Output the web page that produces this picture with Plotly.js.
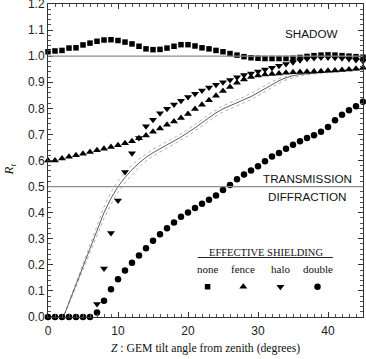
<!DOCTYPE html>
<html>
<head>
<meta charset="utf-8">
<script src="https://cdn.plot.ly/plotly-3.0.1.min.js"></script>
<style>
  html, body { margin: 0; padding: 0; background: #ffffff; }
  #chart { width: 366px; height: 359px; }
</style>
</head>
<body>
<div id="chart"></div>
<script>
/*
  Relative transmission R_t against GEM tilt angle, for four kinds of shielding.
*/

// tilt angle from zenith (degrees), one point per degree
const tiltDeg = [0, 1, 2, 3, 4, 5, 6, 7, 8, 9, 10, 11, 12, 13, 14, 15, 16, 17, 18, 19, 20, 21, 22,
  23, 24, 25, 26, 27, 28, 29, 30, 31, 32, 33, 34, 35, 36, 37, 38, 39, 40, 41, 42, 43, 44, 45];

// shielding: none (squares)
const rtNone = [1.017, 1.020, 1.022, 1.031, 1.032, 1.043, 1.050, 1.057, 1.062, 1.063, 1.060, 1.054,
  1.047, 1.038, 1.028, 1.025, 1.026, 1.031, 1.038, 1.044, 1.044, 1.039, 1.032, 1.028, 1.022, 1.017,
  1.010, 1.004, 0.998, 0.994, 0.992, 0.991, 0.991, 0.991, 0.991, 0.992, 0.995, 0.999, 1.002, 1.004,
  1.005, 1.004, 1.002, 1.000, 0.998, 0.996];

// shielding: fence (up triangles)
const rtFence = [0.600, 0.600, 0.608, 0.614, 0.620, 0.626, 0.633, 0.639, 0.645, 0.652, 0.658, 0.666,
  0.674, 0.685, 0.696, 0.710, 0.723, 0.737, 0.750, 0.763, 0.778, 0.797, 0.814, 0.831, 0.848, 0.866,
  0.882, 0.898, 0.911, 0.920, 0.926, 0.930, 0.932, 0.934, 0.936, 0.938, 0.939, 0.940, 0.941, 0.942,
  0.944, 0.945, 0.947, 0.949, 0.952, 0.956];

// shielding: halo (down triangles), starts at 7 degrees
const haloDeg = [7, 8, 9, 10, 11, 12, 13, 14, 15, 16, 17, 18, 19, 20, 21, 22, 23, 24, 25, 26,
  27, 28, 29, 30, 31, 32, 33, 34, 35, 36, 37, 38, 39, 40, 41, 42, 43, 44, 45];
const rtHalo = [0.050, 0.186, 0.322, 0.447, 0.556, 0.628, 0.686, 0.731, 0.756, 0.781, 0.798, 0.815,
  0.829, 0.843, 0.856, 0.868, 0.880, 0.890, 0.900, 0.909, 0.919, 0.928, 0.934, 0.941, 0.949, 0.956,
  0.963, 0.970, 0.977, 0.984, 0.990, 0.993, 0.995, 0.995, 0.994, 0.992, 0.989, 0.985, 0.981];

// shielding: double (circles)
const rtDouble = [0, 0, 0, 0, 0, 0, 0, 0.017, 0.062, 0.106, 0.145, 0.178, 0.208, 0.236, 0.264, 0.292,
  0.317, 0.340, 0.362, 0.384, 0.401, 0.418, 0.434, 0.450, 0.466, 0.487, 0.506, 0.528, 0.546, 0.562,
  0.578, 0.597, 0.615, 0.629, 0.645, 0.660, 0.674, 0.686, 0.697, 0.710, 0.728, 0.754, 0.775, 0.793,
  0.808, 0.825];

// model curve with its upper and lower band
const fitDeg = [0, 2.2, 3, 4, 5, 6, 7, 8, 9, 10, 11, 12, 13, 14, 15, 16, 17, 18, 19, 20, 21, 22, 23,
  24, 25, 26, 27, 28, 29, 30, 31, 32, 33, 34, 35, 36, 37, 38, 39, 40, 41, 42, 43, 44, 45];
const fitMid = [0, 0, 0.055, 0.125, 0.195, 0.265, 0.335, 0.400, 0.455, 0.500, 0.535, 0.565, 0.590,
  0.612, 0.630, 0.646, 0.660, 0.675, 0.690, 0.707, 0.725, 0.745, 0.765, 0.783, 0.798, 0.810, 0.820,
  0.832, 0.845, 0.860, 0.876, 0.893, 0.906, 0.917, 0.925, 0.930, 0.933, 0.936, 0.938, 0.940, 0.942,
  0.944, 0.946, 0.948, 0.950];
const fitUpper = [0, 0, 0.058, 0.132, 0.207, 0.282, 0.355, 0.422, 0.478, 0.522, 0.555, 0.583, 0.606,
  0.626, 0.643, 0.658, 0.672, 0.687, 0.702, 0.719, 0.737, 0.757, 0.777, 0.795, 0.810, 0.822, 0.832,
  0.844, 0.857, 0.872, 0.888, 0.903, 0.914, 0.923, 0.930, 0.934, 0.937, 0.939, 0.941, 0.943, 0.945,
  0.947, 0.949, 0.951, 0.953];
const fitLower = [0, 0, 0.050, 0.116, 0.183, 0.248, 0.315, 0.378, 0.432, 0.478, 0.515, 0.547, 0.574,
  0.598, 0.617, 0.634, 0.648, 0.663, 0.678, 0.695, 0.713, 0.733, 0.753, 0.771, 0.786, 0.798, 0.808,
  0.820, 0.833, 0.848, 0.864, 0.881, 0.896, 0.909, 0.918, 0.925, 0.929, 0.932, 0.935, 0.937, 0.939,
  0.941, 0.943, 0.945, 0.947];

// legend block labels
const shieldNames = ['none', 'fence', 'halo', 'double'];
const shieldSymbols = ['square', 'triangle-up', 'triangle-down', 'circle'];
const legendTitle = 'EFFECTIVE SHIELDING';

// y tick labels
const yTicks = [0, 0.1, 0.2, 0.3, 0.4, 0.5, 0.6, 0.7, 0.8, 0.9, 1.0, 1.1, 1.2];
const yTickText = ['0.0', '0.1', '0.2', '0.3', '0.4', '0.5', '0.6', '0.7', '0.8', '0.9', '1.0', '1.1', '1.2'];

const SANS = 'Liberation Sans, Arial, sans-serif';
const SERIF = 'Liberation Serif, Times New Roman, serif';

// marker sizes per symbol
const SIZE = { 'square': 5.5, 'triangle-up': 7, 'triangle-down': 7, 'circle': 6.5 };

// where the hand-made legend sits (data units)
const keyX = [22.8, 27.9, 33.2, 38.5];
const keyMarkY = 0.116;
const keyTextY = 0.183;

function markerTrace(x, y, symbol) {
  return {
    x: x, y: y, type: 'scatter', mode: 'markers', cliponaxis: false,
    marker: { symbol: symbol, size: SIZE[symbol], color: '#000' },
    hoverinfo: 'skip', showlegend: false,
  };
}
function lineTrace(y, color, width, dash) {
  return {
    x: fitDeg, y: y, type: 'scatter', mode: 'lines',
    line: { color: color, width: width, dash: dash },
    hoverinfo: 'skip', showlegend: false,
  };
}

const traces = [
  lineTrace(fitUpper, '#a8a8a8', 0.9, 'dot'),
  lineTrace(fitLower, '#a8a8a8', 0.9, 'dot'),
  lineTrace(fitMid, '#606060', 1, 'solid'),
  markerTrace(tiltDeg, rtNone, 'square'),
  markerTrace(tiltDeg, rtFence, 'triangle-up'),
  markerTrace(haloDeg, rtHalo, 'triangle-down'),
  markerTrace(tiltDeg, rtDouble, 'circle'),
].concat(shieldSymbols.map((sym, i) => markerTrace([keyX[i]], [keyMarkY], sym)));

const annotations = [
  { x: 37.6, y: 1.087, text: 'SHADOW', font: { family: SANS, size: 11.7, color: '#111' } },
  { x: 37.1, y: 0.530, text: 'TRANSMISSION', font: { family: SANS, size: 11.7, color: '#111' } },
  { x: 37.1, y: 0.461, text: 'DIFFRACTION', font: { family: SANS, size: 11.7, color: '#111' } },
  { x: 31.2, y: 0.247, text: legendTitle, font: { family: SERIF, size: 10.5, color: '#111' } },
].concat(shieldNames.map((name, i) => ({
  x: keyX[i], y: keyTextY, text: name, font: { family: SERIF, size: 11, color: '#111' },
}))).map(a => Object.assign({ xref: 'x', yref: 'y', showarrow: false }, a));

annotations.push({
  xref: 'paper', yref: 'paper', x: -0.155, y: 0.47, showarrow: false, textangle: -90,
  text: '<i>R</i><sub><i>t</i></sub>', font: { family: SERIF, size: 13, color: '#111' },
});

const axisCommon = {
  showgrid: false, zeroline: false, showline: true, mirror: 'allticks',
  linecolor: '#333', linewidth: 1, ticks: 'inside', ticklen: 5, tickcolor: '#333',
  tickfont: { family: SANS, size: 12, color: '#222' },
  ticklabeloverflow: 'allow',
};

const layout = {
  width: 366, height: 359,
  margin: { l: 48, r: 3, t: 4, b: 42 },
  paper_bgcolor: '#ffffff',
  plot_bgcolor: '#ffffff',
  showlegend: false,
  xaxis: Object.assign({}, axisCommon, {
    range: [0, 45], dtick: 10, tick0: 0, ticklabelstandoff: 3,
    minor: { dtick: 1, ticklen: 3, ticks: 'inside', tickcolor: '#555' },
    title: {
      text: '<i>Z</i> : GEM tilt angle from zenith (degrees)',
      font: { family: SERIF, size: 11.7, color: '#111' }, standoff: 6,
    },
  }),
  yaxis: Object.assign({}, axisCommon, {
    range: [0, 1.2], tickmode: 'array', tickvals: yTicks, ticktext: yTickText,
    minor: { dtick: 0.02, tick0: 0, ticklen: 3, ticks: 'inside', tickcolor: '#555' },
  }),
  shapes: [
    { type: 'line', xref: 'paper', yref: 'y', x0: 0, x1: 1, y0: 1, y1: 1, line: { color: '#8c8c8c', width: 1.3 } },
    { type: 'line', xref: 'paper', yref: 'y', x0: 0, x1: 1, y0: 0.5, y1: 0.5, line: { color: '#8c8c8c', width: 1.3 } },
    { type: 'line', xref: 'x', yref: 'y', x0: 21.4, x1: 40.7, y0: 0.228, y1: 0.228, line: { color: '#222', width: 1 } },
  ],
  annotations: annotations,
};

Plotly.newPlot('chart', traces, layout, { staticPlot: true, displayModeBar: false });
</script>
</body>
</html>
